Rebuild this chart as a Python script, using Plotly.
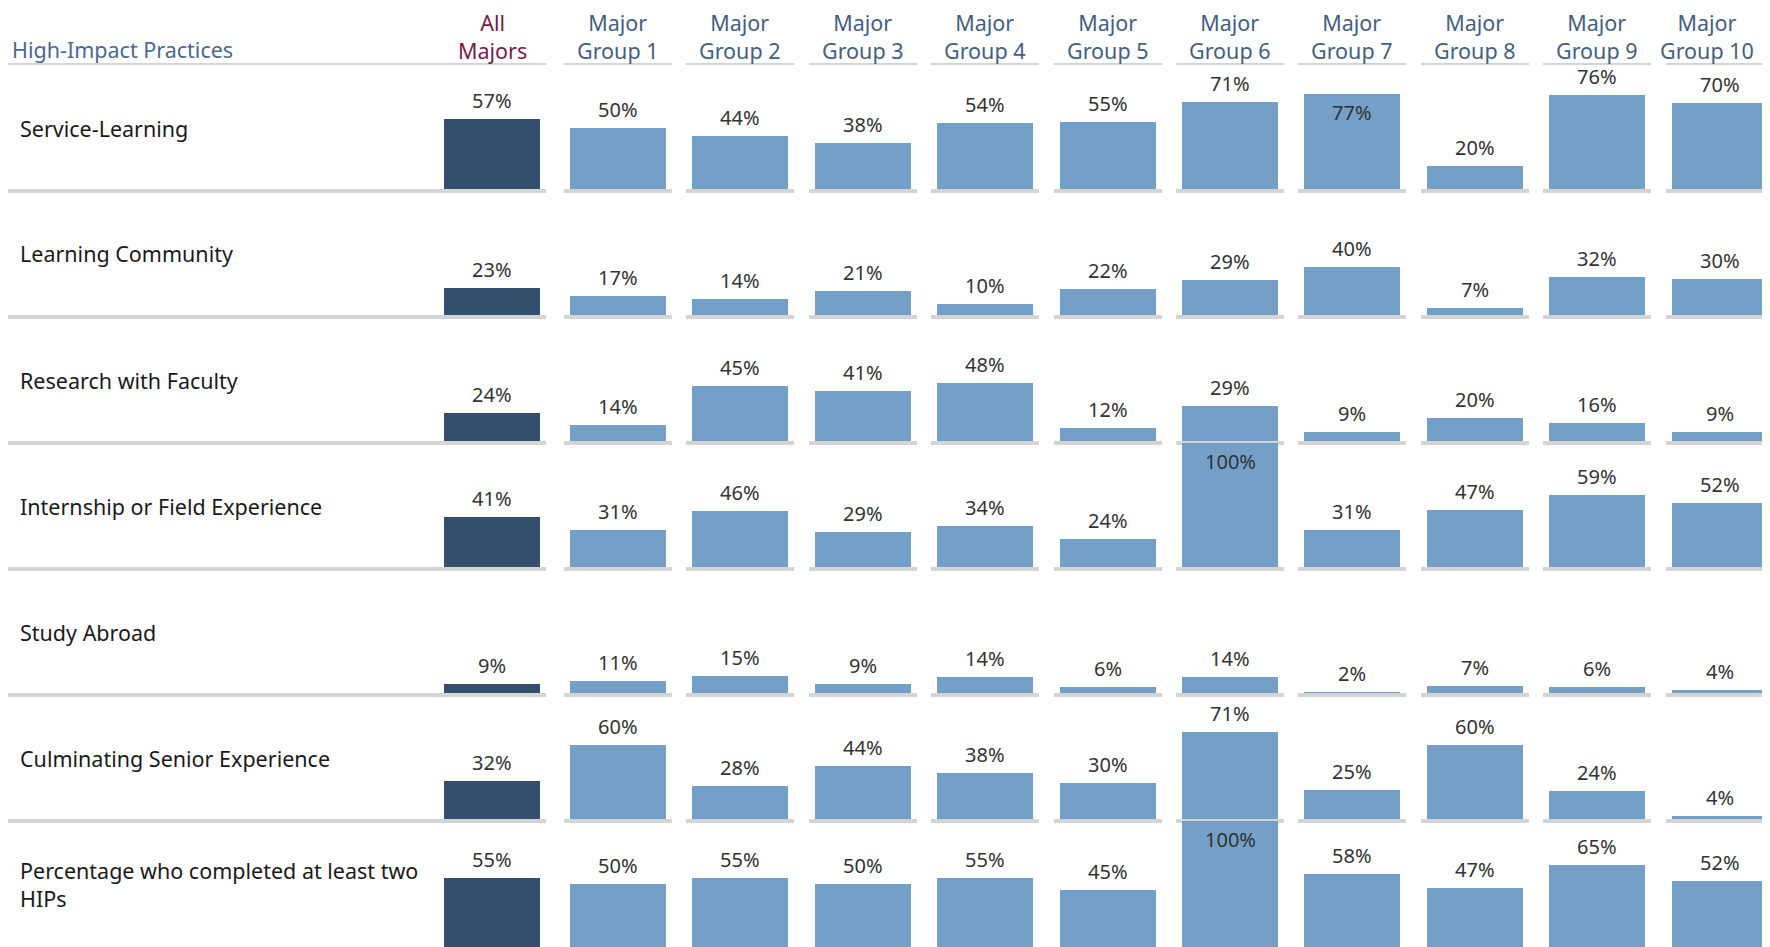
import plotly.graph_objects as go

# ---------------- data ----------------
columns = ["All Majors", "Major Group 1", "Major Group 2", "Major Group 3", "Major Group 4",
           "Major Group 5", "Major Group 6", "Major Group 7", "Major Group 8", "Major Group 9",
           "Major Group 10"]
column_headers = ["All<br>Majors"] + [f"Major<br>Group {i}" for i in range(1, 11)]

practices = ["Service-Learning", "Learning Community", "Research with Faculty",
             "Internship or Field Experience", "Study Abroad", "Culminating Senior Experience",
             "Percentage who completed at least two<br>HIPs"]

service_learning = [57, 50, 44, 38, 54, 55, 71, 77, 20, 76, 70]
learning_community = [23, 17, 14, 21, 10, 22, 29, 40, 7, 32, 30]
research_with_faculty = [24, 14, 45, 41, 48, 12, 29, 9, 20, 16, 9]
internship_field = [41, 31, 46, 29, 34, 24, 100, 31, 47, 59, 52]
study_abroad = [9, 11, 15, 9, 14, 6, 14, 2, 7, 6, 4]
culminating_senior = [32, 60, 28, 44, 38, 30, 71, 25, 60, 24, 4]
at_least_two_hips = [55, 50, 55, 50, 55, 45, 100, 58, 47, 65, 52]

rows_values = [service_learning, learning_community, research_with_faculty, internship_field,
               study_abroad, culminating_senior, at_least_two_hips]

# ---------------- layout geometry (page pixels) ----------------
PAGE_W, PAGE_H = 1770, 947
OFF = 8                       # default body margin of the html page
W, H = PAGE_W - OFF, PAGE_H - OFF
HEADER_Y = 65                 # page y of header underline
ROW_H = (PAGE_H - HEADER_Y) / len(practices)
CELL_W = 108                  # separator width per column
BAR_W = 96                    # bar width
label_left, label_right = 6, 438
col_centers = [492] + [618 + i * 122.4 for i in range(10)]

DARK = "#344f6d"
LIGHT = "#74a0c7"
LINE = "#d4d4d4"
FONT = "Noto Sans"


def px_x(p):
    return min(1.0, max(0.0, (p - OFF) / W))


def px_y(p):
    return min(1.0, max(0.0, 1 - (p - OFF) / H))


fig = go.Figure()
annotations = []
layout_axes = {}
ncols = len(columns) + 1

for r, (practice, vals) in enumerate(zip(practices, rows_values)):
    top = HEADER_Y + r * ROW_H
    bottom = top + ROW_H
    ydom = [px_y(bottom), px_y(top)]
    for c in range(ncols):
        n = r * ncols + c + 1
        xa = "xaxis" if n == 1 else f"xaxis{n}"
        ya = "yaxis" if n == 1 else f"yaxis{n}"
        xs = "x" if n == 1 else f"x{n}"
        ys = "y" if n == 1 else f"y{n}"
        if c == 0:
            left, right = label_left, label_right
            xr = [0, 1]
        else:
            cx = col_centers[c - 1]
            left = cx - CELL_W / 2
            right = min(PAGE_W, cx + CELL_W / 2)
            xr = [-0.5, -0.5 + (right - left) / CELL_W]
        layout_axes[xa] = dict(domain=[px_x(left), px_x(right)], anchor=ys, range=xr,
                               showline=True, mirror=True, linecolor=LINE, linewidth=2,
                               showgrid=False, zeroline=False, showticklabels=False,
                               ticks="", fixedrange=True)
        layout_axes[ya] = dict(domain=ydom, anchor=xs, range=[0, 1], visible=False,
                               showgrid=False, zeroline=False, fixedrange=True)
        if c == 0:
            fig.add_trace(go.Scatter(x=[], y=[], xaxis=xs, yaxis=ys, showlegend=False,
                                     hoverinfo="skip"))
            annotations.append(dict(text=practice, xref=f"{xs} domain", yref=f"{ys} domain",
                                    x=0, y=0.5, xanchor="left", yanchor="middle", xshift=10,
                                    align="left", showarrow=False,
                                    font=dict(family=FONT, size=21.5, color="#1a1a1a")))
            continue
        v = vals[c - 1] / 100
        fig.add_trace(go.Bar(x=[0], y=[v], width=[BAR_W / CELL_W], xaxis=xs, yaxis=ys,
                             marker=dict(color=DARK if c == 1 else LIGHT, line=dict(width=0)),
                             showlegend=False,
                             hovertemplate=f"{columns[c-1]}: %{{y:.0%}}<extra></extra>"))
        inside = v >= 0.77
        annotations.append(dict(text=f"{vals[c-1]}%", xref=xs, yref=ys, x=0, y=v,
                                xanchor="center", yanchor="top" if inside else "bottom",
                                yshift=-3 if inside else 3, showarrow=False,
                                font=dict(family=FONT, size=20, color="#333333")))

# headers
annotations.append(dict(text="High-Impact Practices", xref="paper", yref="paper",
                        x=px_x(11), y=px_y(HEADER_Y), xanchor="left", yanchor="bottom",
                        yshift=0, borderpad=0, showarrow=False,
                        font=dict(family=FONT, size=21.5, color="#4a6a8e")))
for c, hdr in enumerate(column_headers):
    last = c == len(column_headers) - 1
    annotations.append(dict(text=hdr, xref="paper", yref="paper",
                            x=px_x(1755) if last else px_x(col_centers[c]),
                            y=px_y(HEADER_Y), xanchor="right" if last else "center",
                            align="center", yanchor="bottom", yshift=-1, borderpad=0,
                            showarrow=False,
                            font=dict(family=FONT, size=21.5,
                                      color="#7a1a48" if c == 0 else "#44607f")))

fig.update_layout(width=W, height=H, margin=dict(l=0, r=0, t=0, b=0),
                  paper_bgcolor="white", plot_bgcolor="white", bargap=0,
                  annotations=annotations, **layout_axes)

fig.write_html("out.html")
